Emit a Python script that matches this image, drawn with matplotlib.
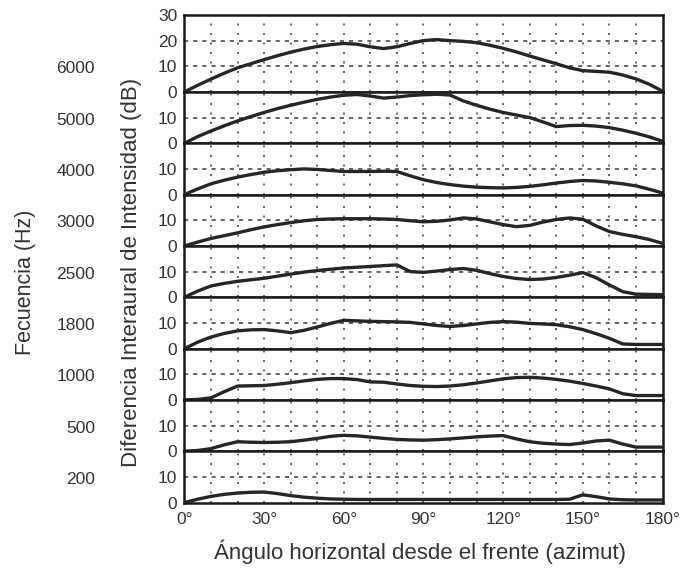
import matplotlib

matplotlib.use("Agg")
import matplotlib.pyplot as plt
from matplotlib.transforms import blended_transform_factory

plt.rcParams["font.family"] = ["Liberation Sans", "DejaVu Sans"]

# azimuth (deg) at which the curves were read
angles = list(range(0, 181, 5))

freq_labels = ["6000", "5000", "4000", "3000", "2500", "1800", "1000", "500", "200"]

# interaural intensity difference (dB), one list per frequency
iid_6000 = [0, 2.6, 5, 7.3, 9.4, 11, 12.6, 14.1, 15.5, 16.7, 17.7, 18.4, 18.9, 18.6, 17.6,
            16.9, 17.6, 18.9, 20, 20.4, 20, 19.7, 19.2, 18.2, 17, 15.6, 14, 12.5, 11, 9.4,
            8.3, 8, 7.7, 6.6, 5.1, 3, 0.3]
iid_5000 = [0, 2.6, 4.8, 6.8, 8.7, 10.4, 12, 13.5, 14.8, 16, 17.1, 18, 18.7, 19, 18.4,
            17.6, 18, 18.6, 18.9, 19.1, 18.8, 16.5, 14.8, 13.3, 12, 11, 10, 8.3, 6.5, 6.9,
            7, 6.7, 6.1, 5.1, 3.9, 2.5, 0.8]
iid_4000 = [0, 2.2, 4.2, 5.6, 6.8, 7.8, 8.7, 9.3, 9.7, 10, 9.8, 9.4, 9, 9, 9,
            9.1, 9, 7.3, 5.8, 4.7, 3.9, 3.3, 2.9, 2.7, 2.6, 2.8, 3.2, 3.8, 4.5, 5.1,
            5.5, 5.3, 4.8, 4.2, 3.4, 2.1, 0.6]
iid_3000 = [0, 1.5, 2.9, 4, 5.1, 6.3, 7.4, 8.3, 9.1, 9.8, 10.3, 10.5, 10.6, 10.6, 10.6,
            10.5, 10.3, 9.8, 9.4, 9.6, 10.1, 10.9, 10.5, 9.4, 8.3, 7.5, 8, 9.3, 10.3, 10.9,
            10.4, 7.8, 5.6, 4.5, 3.6, 2.5, 1]
iid_2500 = [0, 2.4, 4.4, 5.4, 6.2, 6.8, 7.4, 8.2, 9, 9.8, 10.4, 10.9, 11.4, 11.7, 12,
            12.3, 12.6, 10, 9.7, 10.2, 10.8, 11.2, 10.5, 9.2, 8.1, 7.3, 6.9, 7.1, 7.7, 8.6,
            9.6, 7.6, 4.8, 2.2, 1.2, 1.1, 1]
iid_1800 = [0, 2.5, 4.5, 5.9, 6.9, 7.3, 7.4, 6.9, 6.2, 7.1, 8.4, 9.8, 11, 10.8, 10.6,
            10.5, 10.4, 10.2, 9.6, 9, 8.6, 9, 9.6, 10.2, 10.5, 10.3, 9.8, 9.6, 9.3, 8.5,
            7.4, 5.8, 4, 1.8, 1.6, 1.6, 1.6]
iid_1000 = [0, 0.2, 0.8, 3.2, 5.4, 5.5, 5.6, 6.1, 6.7, 7.4, 8, 8.3, 8.3, 7.9, 7,
            6.9, 6.2, 5.6, 5.3, 5.2, 5.4, 5.9, 6.6, 7.4, 8.2, 8.7, 8.8, 8.5, 8, 7.3,
            6.4, 5.4, 4.3, 2.4, 1.7, 1.7, 1.7]
iid_500 = [0, 0.3, 1, 2.5, 3.7, 3.5, 3.4, 3.5, 3.7, 4.3, 5, 5.8, 6.2, 6, 5.5,
           5, 4.6, 4.4, 4.3, 4.5, 4.8, 5.2, 5.6, 5.9, 6.1, 4.8, 3.7, 3.1, 2.8, 2.6,
           3.2, 4, 4.3, 2.8, 1.6, 1.6, 1.6]
iid_200 = [0, 1.3, 2.4, 3.2, 3.7, 4, 4.1, 3.5, 2.7, 2.1, 1.7, 1.4, 1.3, 1.2, 1.2,
           1.2, 1.2, 1.2, 1.2, 1.2, 1.2, 1.2, 1.2, 1.2, 1.2, 1.2, 1.2, 1.2, 1.2, 1.3,
           3, 2.3, 1.4, 1.1, 1, 1, 1]

series = [iid_6000, iid_5000, iid_4000, iid_3000, iid_2500, iid_1800, iid_1000, iid_500, iid_200]

x_ticks = [0, 30, 60, 90, 120, 150, 180]
grid_angles = list(range(10, 180, 10))

INK = "#262626"
LABEL = "#333333"

fig, axes = plt.subplots(
    len(series), 1, figsize=(6.83, 5.75), dpi=100, sharex=True,
    gridspec_kw={"height_ratios": [30] + [20] * (len(series) - 1), "hspace": 0},
)
fig.subplots_adjust(left=0.270, right=0.970, top=0.974, bottom=0.126)

for i, (ax, vals, lab) in enumerate(zip(axes, series, freq_labels)):
    top = 30 if i == 0 else 20
    ax.set_xlim(0, 180)
    ax.set_ylim(0, top)
    for a in grid_angles:
        ax.axvline(a, color="#4a4a4a", lw=1.2, ls=(0, (1.2, 4.5)), zorder=1)
    for h in ([10, 20] if i == 0 else [10]):
        ax.axhline(h, color="#4a4a4a", lw=1.2, ls=(0, (2.5, 3)), zorder=1)
    ax.plot(angles, vals, color=INK, lw=2.4, solid_capstyle="round", zorder=3)

    ax.set_yticks([0, 10, 20, 30] if i == 0 else [0, 10])
    ax.tick_params(axis="y", length=0, pad=5, labelsize=12.5, labelcolor=LABEL)
    ax.tick_params(axis="x", length=0, pad=7, labelsize=12.5, labelcolor=LABEL)
    for sp in ax.spines.values():
        sp.set_linewidth(1.8)
        sp.set_color("#1a1a1a")

    tr = blended_transform_factory(fig.transFigure, ax.transData)
    ax.text(95 / 683, 9, lab, transform=tr, ha="right", va="center",
            fontsize=12.5, color=LABEL)

axes[-1].set_xticks(x_ticks)
axes[-1].set_xticklabels([f"{v}°" for v in x_ticks])

fig.text(420 / 683, 1 - 552 / 575, "Ángulo horizontal desde el frente (azimut)",
         ha="center", va="center", fontsize=16, color=LABEL)
fig.text(131 / 683, 1 - 272 / 575, "Diferencia Interaural de Intensidad (dB)",
         ha="center", va="center", rotation=90, fontsize=16, color=LABEL)
fig.text(26 / 683, 1 - 282 / 575, "Fecuencia (Hz)",
         ha="center", va="center", rotation=90, fontsize=15.5, color=LABEL)

fig.savefig("out.png", dpi=100)
